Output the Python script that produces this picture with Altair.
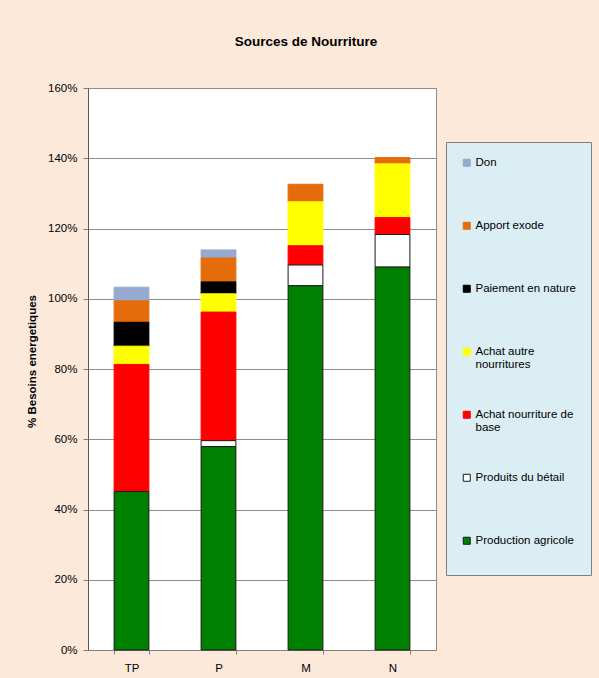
import altair as alt
import pandas as pd

# Household groups along the x axis
groups = ["TP", "P", "M", "N"]

# Food sources, listed top of legend to bottom (= top of stack to bottom)
sources = [
    "Don",
    "Apport exode",
    "Paiement en nature",
    "Achat autre nourritures",
    "Achat nourriture de base",
    "Produits du bétail",
    "Production agricole",
]
fill_colors = ["#95A9D1", "#E46C0A", "#000000", "#FFFF00", "#FF0000", "#FFFFFF", "#008000"]
edge_colors = ["#95A9D1", "#E46C0A", "#000000", "#FFFF00", "#FF0000", "#1A1A1A", "#1A1A1A"]

# Share of energy needs covered (%), one value per group
don = [3.9, 2.3, 0.0, 0.0]
apport_exode = [6.1, 6.8, 5.0, 1.8]
paiement_nature = [6.8, 3.4, 0.0, 0.0]
achat_autre = [5.2, 5.2, 12.5, 15.3]
achat_base = [36.2, 36.6, 5.5, 4.8]
produits_betail = [0.0, 1.7, 5.9, 9.3]
production_agricole = [45.1, 57.9, 103.7, 109.0]

series = [don, apport_exode, paiement_nature, achat_autre,
          achat_base, produits_betail, production_agricole]

rows = []
for s_idx, (name, vals) in enumerate(zip(sources, series)):
    for g, v in zip(groups, vals):
        rows.append({
            "groupe": g,
            "source": name,
            "valeur": v,
            "rang": len(sources) - 1 - s_idx,  # 0 = bottom of the stack
        })
df = pd.DataFrame(rows)

FONT = "Liberation Sans"

# Every legend entry takes two lines so the entries are evenly spaced
wrap_expr = (
    "datum.label == 'Achat autre nourritures' ? ['Achat autre', 'nourritures'] : "
    "datum.label == 'Achat nourriture de base' ? ['Achat nourriture de', 'base'] : "
    "[datum.label, '']"
)

legend = alt.Legend(
    title=None,
    orient="none",
    legendX=358,
    legendY=54,
    direction="vertical",
    fillColor="#DBEEF4",
    strokeColor="#7F7F7F",
    padding=15,
    rowPadding=37,
    symbolType="square",
    symbolSize=49,
    symbolStrokeWidth=1,
    labelFont=FONT,
    labelFontSize=11.5,
    labelColor="#000000",
    labelOffset=3,
    labelLimit=200,
    labelExpr=wrap_expr,
)

chart = (
    alt.Chart(df)
    .transform_filter("datum.valeur > 0")
    .mark_bar(strokeWidth=1)
    .encode(
        x=alt.X(
            "groupe:N",
            sort=groups,
            scale=alt.Scale(paddingInner=0.6, paddingOuter=0.3),
            axis=alt.Axis(
                title=None,
                labelAngle=0,
                tickBand="extent",
                tickSize=4,
                tickColor="#808080",
                domainColor="#808080",
                labelFont=FONT,
                labelFontSize=11.5,
                labelColor="#000000",
                labelPadding=8,
            ),
        ),
        y=alt.Y(
            "valeur:Q",
            stack="zero",
            scale=alt.Scale(domain=[0, 160], nice=False),
            axis=alt.Axis(
                values=list(range(0, 161, 20)),
                labelExpr="datum.value + '%'",
                title="% Besoins energetiques",
                titleFont=FONT,
                titleFontSize=11.5,
                titleFontWeight="bold",
                titleColor="#000000",
                titleX=-56,
                titleY=273,
                titleAngle=-90,
                titleAlign="center",
                titleBaseline="middle",
                tickSize=5,
                tickColor="#808080",
                domainColor="#595959",
                gridColor="#8C8C8C",
                labelFont=FONT,
                labelFontSize=11.5,
                labelColor="#000000",
                labelPadding=6,
            ),
        ),
        fill=alt.Fill("source:N", scale=alt.Scale(domain=sources, range=fill_colors), legend=legend),
        stroke=alt.Stroke("source:N", scale=alt.Scale(domain=sources, range=edge_colors), legend=legend),
        order=alt.Order("rang:Q", sort="ascending"),
    )
    .properties(
        width=348,
        height=562,
        autosize=alt.AutoSizeParams(type="none"),
        padding={"left": 88, "top": 88, "right": 163, "bottom": 28},
        background="#FDE9DA",
        title=alt.TitleParams(
            "Sources de Nourriture",
            font=FONT,
            fontSize=13.5,
            fontWeight="bold",
            color="#000000",
            anchor="middle",
            frame="group",
            dx=44,
            offset=34,
        ),
    )
    .configure_view(fill="#FFFFFF", stroke="#8C8C8C")
)

chart.save("out.html", embed_options={"renderer": "svg", "actions": False})
